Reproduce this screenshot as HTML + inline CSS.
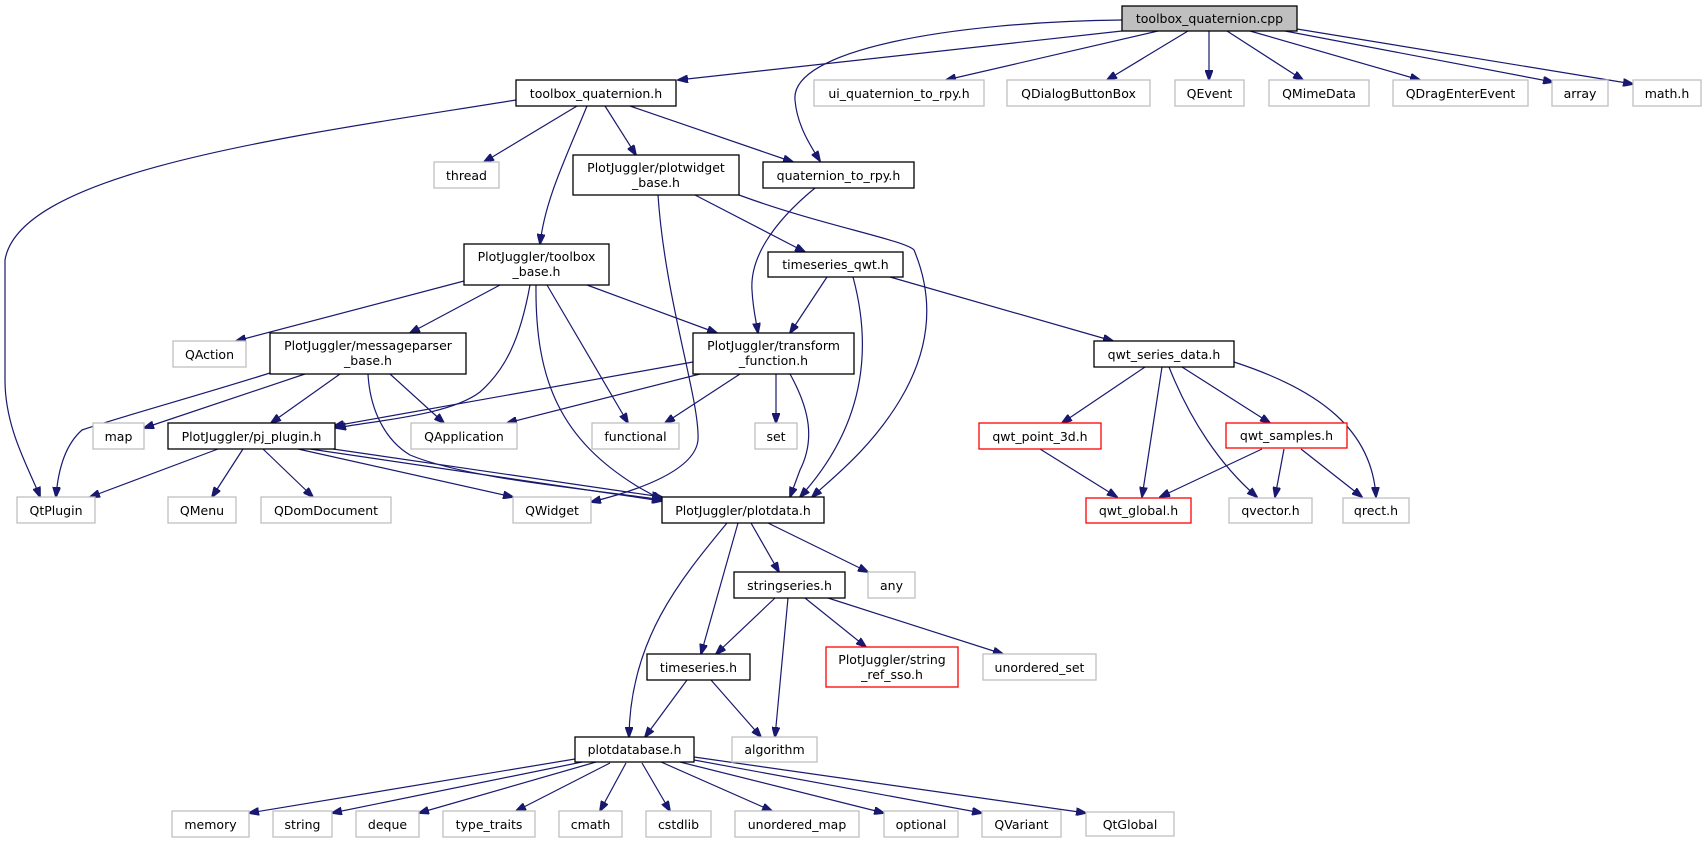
<!DOCTYPE html>
<html><head><meta charset="utf-8"><style>
html,body{margin:0;padding:0;background:#fff;}
svg{display:block;}
text{font-family:"DejaVu Sans","Liberation Sans",sans-serif;font-size:12.5px;fill:#000;text-anchor:middle;}
.e{fill:none;stroke:#191970;stroke-width:1.2;marker-end:url(#a);}
.g{fill:#fff;stroke:#bfbfbf;stroke-width:1.3;}
.b{fill:#fff;stroke:#000;stroke-width:1.3;}
.r{fill:#fff;stroke:#ff0000;stroke-width:1.3;}
</style></head><body>
<svg width="1706" height="843" viewBox="0 0 1706 843" xmlns="http://www.w3.org/2000/svg">
<defs><marker id="a" markerWidth="11" markerHeight="8" refX="10" refY="4" orient="auto" markerUnits="userSpaceOnUse"><path d="M0,0 L11,4 L0,8 z" fill="#191970" stroke="#191970"/></marker></defs>

<!-- edges -->
<path class="e" d="M1122,31 L678,80"/>
<path class="e" d="M1122,20 C950,22 790,50 795,100 C797,125 810,145 820,161"/>
<path class="e" d="M1158,31 L946,80"/>
<path class="e" d="M1188,31 L1107,80"/>
<path class="e" d="M1209,31 L1209,80"/>
<path class="e" d="M1227,31 L1303,80"/>
<path class="e" d="M1250,31 L1420,80"/>
<path class="e" d="M1285,31 L1553,82"/>
<path class="e" d="M1297,29 L1633,84"/>

<path class="e" d="M516,100 C300,135 20,170 5,260 L5,380 C5,430 30,470 40,497"/>
<path class="e" d="M577,106 L484,162"/>
<path class="e" d="M587,106 C565,160 545,200 540,244"/>
<path class="e" d="M605,106 L636,155"/>
<path class="e" d="M630,106 L793,162"/>

<path class="e" d="M695,195 L805,252"/>
<path class="e" d="M658,195 C665,300 700,400 698,440 C695,470 640,490 591,502"/>
<path class="e" d="M739,195 C820,225 905,240 914,250 C935,300 930,350 900,400 C870,450 830,480 812,497"/>
<path class="e" d="M815,188 C770,225 750,260 752,290 C753,310 756,320 758,333"/>

<path class="e" d="M464,281 L236,341"/>
<path class="e" d="M500,285 L410,333"/>
<path class="e" d="M530,285 C520,340 505,370 480,392 C450,415 380,420 336,428"/>
<path class="e" d="M587,285 L717,333"/>
<path class="e" d="M547,285 L628,423"/>
<path class="e" d="M536,285 C535,380 560,440 640,488 L662,500"/>

<path class="e" d="M270,373 C200,395 110,420 82,430 C65,445 58,470 56,497"/>
<path class="e" d="M305,374 L144,428"/>
<path class="e" d="M340,374 L271,423"/>
<path class="e" d="M390,374 L444,423"/>
<path class="e" d="M368,374 C370,410 385,440 410,455 C470,480 600,490 662,500"/>

<path class="e" d="M693,362 L334,426"/>
<path class="e" d="M700,374 L507,423"/>
<path class="e" d="M740,374 L665,423"/>
<path class="e" d="M776,374 L776,423"/>
<path class="e" d="M790,374 C810,410 815,440 800,470 L790,497"/>

<path class="e" d="M827,277 L790,333"/>
<path class="e" d="M853,277 C870,340 870,420 800,497"/>
<path class="e" d="M890,277 L1113,341"/>

<path class="e" d="M218,449 L90,497"/>
<path class="e" d="M243,449 L212,497"/>
<path class="e" d="M263,449 L313,497"/>
<path class="e" d="M298,449 L513,497"/>
<path class="e" d="M333,449 L662,497"/>
<path class="e" d="M310,449 L662,501"/>

<path class="e" d="M1145,367 L1062,423"/>
<path class="e" d="M1162,367 L1142,497"/>
<path class="e" d="M1169,367 C1190,420 1220,465 1257,497"/>
<path class="e" d="M1182,367 L1270,423"/>
<path class="e" d="M1234,362 C1320,390 1372,430 1376,497"/>
<path class="e" d="M1040,449 L1117,497"/>
<path class="e" d="M1262,449 L1160,497"/>
<path class="e" d="M1284,449 L1275,497"/>
<path class="e" d="M1301,449 L1362,497"/>

<path class="e" d="M727,523 C680,580 630,640 629,737"/>
<path class="e" d="M738,523 L701,654"/>
<path class="e" d="M751,523 L779,572"/>
<path class="e" d="M768,523 L868,572"/>

<path class="e" d="M775,598 L716,654"/>
<path class="e" d="M788,598 L775,737"/>
<path class="e" d="M805,598 L866,647"/>
<path class="e" d="M828,598 L1003,654"/>

<path class="e" d="M687,680 L645,737"/>
<path class="e" d="M711,680 L761,737"/>

<path class="e" d="M575,759 L249,813"/>
<path class="e" d="M582,762 L332,813"/>
<path class="e" d="M596,762 L419,813"/>
<path class="e" d="M610,763 L516,811"/>
<path class="e" d="M626,763 L600,811"/>
<path class="e" d="M642,763 L670,811"/>
<path class="e" d="M661,762 L772,811"/>
<path class="e" d="M680,762 L884,813"/>
<path class="e" d="M694,760 L982,813"/>
<path class="e" d="M694,757 L1086,813"/>

<!-- nodes -->
<rect x="1122" y="6" width="175" height="25" fill="#bfbfbf" stroke="#000" stroke-width="1.3"/><text x="1209.5" y="23">toolbox_quaternion.cpp</text>

<rect class="b" x="516" y="80" width="160" height="26"/><text x="596" y="98">toolbox_quaternion.h</text>
<rect class="g" x="814" y="80" width="170" height="26"/><text x="899" y="98">ui_quaternion_to_rpy.h</text>
<rect class="g" x="1007" y="80" width="143" height="26"/><text x="1078.5" y="98">QDialogButtonBox</text>
<rect class="g" x="1175" y="80" width="69" height="26"/><text x="1209.5" y="98">QEvent</text>
<rect class="g" x="1269" y="80" width="100" height="26"/><text x="1319" y="98">QMimeData</text>
<rect class="g" x="1393" y="80" width="135" height="26"/><text x="1460.5" y="98">QDragEnterEvent</text>
<rect class="g" x="1552" y="80" width="56" height="26"/><text x="1580" y="98">array</text>
<rect class="g" x="1633" y="80" width="68" height="26"/><text x="1667" y="98">math.h</text>

<rect class="g" x="434" y="162" width="65" height="26"/><text x="466.5" y="180">thread</text>
<rect class="b" x="573" y="155" width="166" height="40"/><text x="656" y="172">PlotJuggler/plotwidget</text><text x="656" y="187">_base.h</text>
<rect class="b" x="763" y="162" width="151" height="26"/><text x="838.5" y="180">quaternion_to_rpy.h</text>

<rect class="b" x="464" y="244" width="145" height="41"/><text x="536.5" y="261">PlotJuggler/toolbox</text><text x="536.5" y="276">_base.h</text>
<rect class="b" x="768" y="252" width="135" height="25"/><text x="835.5" y="269">timeseries_qwt.h</text>

<rect class="g" x="173" y="341" width="73" height="26"/><text x="209.5" y="359">QAction</text>
<rect class="b" x="270" y="333" width="196" height="41"/><text x="368" y="350">PlotJuggler/messageparser</text><text x="368" y="365">_base.h</text>
<rect class="b" x="693" y="333" width="161" height="41"/><text x="773.5" y="350">PlotJuggler/transform</text><text x="773.5" y="365">_function.h</text>
<rect class="b" x="1094" y="341" width="140" height="26"/><text x="1164" y="359">qwt_series_data.h</text>

<rect class="g" x="93" y="423" width="51" height="26"/><text x="118.5" y="441">map</text>
<rect class="b" x="168" y="423" width="167" height="26"/><text x="251.5" y="441">PlotJuggler/pj_plugin.h</text>
<rect class="g" x="411" y="423" width="106" height="26"/><text x="464" y="441">QApplication</text>
<rect class="g" x="592" y="423" width="87" height="26"/><text x="635.5" y="441">functional</text>
<rect class="g" x="755" y="423" width="42" height="26"/><text x="776" y="441">set</text>
<rect class="r" x="979" y="423" width="122" height="26"/><text x="1040" y="441">qwt_point_3d.h</text>
<rect class="r" x="1226" y="423" width="121" height="25"/><text x="1286.5" y="440">qwt_samples.h</text>

<rect class="g" x="17" y="497" width="78" height="26"/><text x="56" y="515">QtPlugin</text>
<rect class="g" x="168" y="497" width="68" height="26"/><text x="202" y="515">QMenu</text>
<rect class="g" x="261" y="497" width="130" height="26"/><text x="326" y="515">QDomDocument</text>
<rect class="g" x="513" y="497" width="78" height="26"/><text x="552" y="515">QWidget</text>
<rect class="b" x="662" y="497" width="162" height="26"/><text x="743" y="515">PlotJuggler/plotdata.h</text>
<rect class="r" x="1086" y="498" width="105" height="25"/><text x="1138.5" y="515">qwt_global.h</text>
<rect class="g" x="1229" y="498" width="83" height="25"/><text x="1270.5" y="515">qvector.h</text>
<rect class="g" x="1343" y="498" width="66" height="25"/><text x="1376" y="515">qrect.h</text>

<rect class="b" x="734" y="572" width="111" height="26"/><text x="789.5" y="590">stringseries.h</text>
<rect class="g" x="868" y="572" width="47" height="26"/><text x="891.5" y="590">any</text>

<rect class="b" x="647" y="654" width="103" height="26"/><text x="698.5" y="672">timeseries.h</text>
<rect class="r" x="826" y="647" width="132" height="40"/><text x="892" y="664">PlotJuggler/string</text><text x="892" y="679">_ref_sso.h</text>
<rect class="g" x="983" y="654" width="113" height="26"/><text x="1039.5" y="672">unordered_set</text>

<rect class="b" x="575" y="737" width="119" height="25"/><text x="634.5" y="754">plotdatabase.h</text>
<rect class="g" x="732" y="737" width="85" height="25"/><text x="774.5" y="754">algorithm</text>

<rect class="g" x="172" y="811" width="77" height="26"/><text x="210.5" y="829">memory</text>
<rect class="g" x="273" y="811" width="59" height="26"/><text x="302.5" y="829">string</text>
<rect class="g" x="356" y="811" width="63" height="26"/><text x="387.5" y="829">deque</text>
<rect class="g" x="443" y="811" width="92" height="26"/><text x="489" y="829">type_traits</text>
<rect class="g" x="559" y="811" width="63" height="26"/><text x="590.5" y="829">cmath</text>
<rect class="g" x="646" y="811" width="65" height="26"/><text x="678.5" y="829">cstdlib</text>
<rect class="g" x="735" y="811" width="124" height="26"/><text x="797" y="829">unordered_map</text>
<rect class="g" x="884" y="811" width="74" height="26"/><text x="921" y="829">optional</text>
<rect class="g" x="982" y="811" width="79" height="26"/><text x="1021.5" y="829">QVariant</text>
<rect class="g" x="1086" y="812" width="88" height="24"/><text x="1130" y="829">QtGlobal</text>
</svg>
</body></html>
